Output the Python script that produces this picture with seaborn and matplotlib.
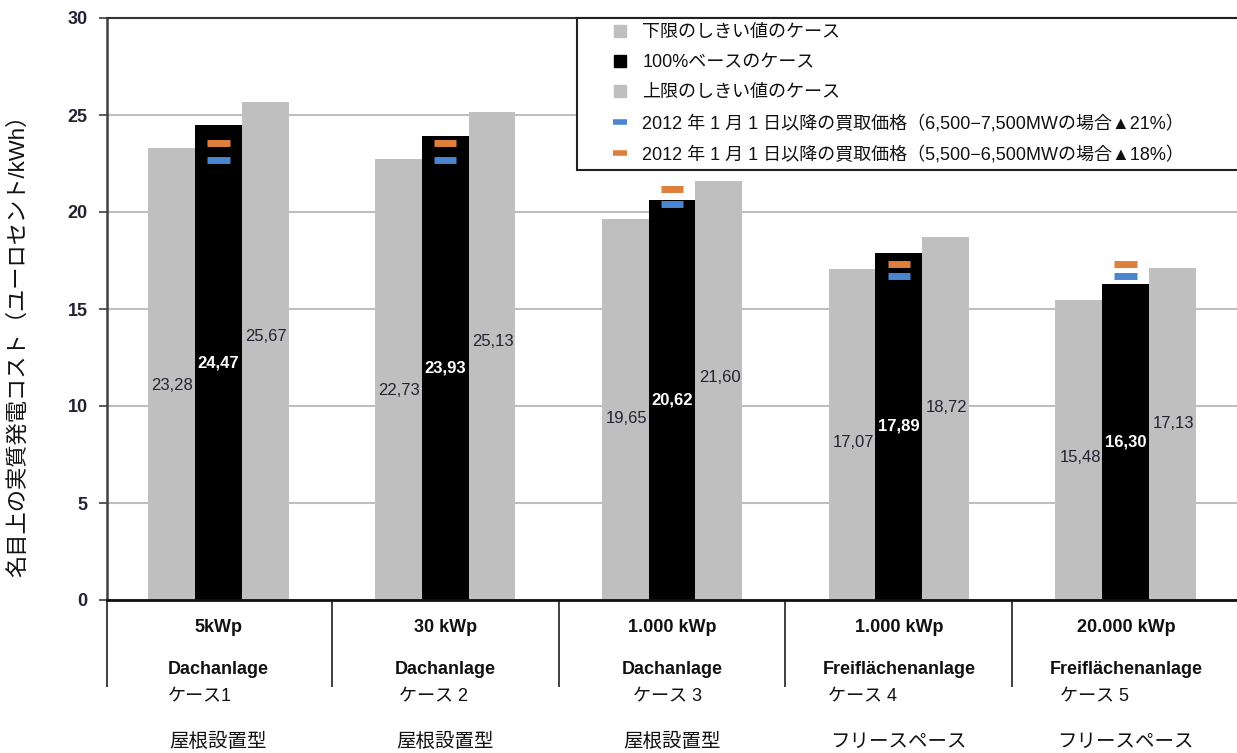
import numpy as np
import pandas as pd
import matplotlib
matplotlib.use("Agg")
import matplotlib.pyplot as plt
from matplotlib.lines import Line2D
import seaborn as sns

# ---------------- data ----------------
case_keys = ["ケース1", "ケース 2", "ケース 3", "ケース 4", "ケース 5"]
size_labels = ["5kWp", "30 kWp", "1.000 kWp", "1.000 kWp", "20.000 kWp"]
type_de = ["Dachanlage", "Dachanlage", "Dachanlage", "Freiflächenanlage", "Freiflächenanlage"]
type_ja = ["屋根設置型", "屋根設置型", "屋根設置型", "フリースペース", "フリースペース"]

series_names = ["下限のしきい値のケース", "100%ベースのケース", "上限のしきい値のケース"]
lower_vals = [23.28, 22.73, 19.65, 17.07, 15.48]
base_vals = [24.47, 23.93, 20.62, 17.89, 16.30]
upper_vals = [25.67, 25.13, 21.60, 18.72, 17.13]

tariff21_name = "2012 年 1 月 1 日以降の買取価格（6,500−7,500MWの場合▲21%）"
tariff18_name = "2012 年 1 月 1 日以降の買取価格（5,500−6,500MWの場合▲18%）"
tariff21_vals = [22.70, 22.70, 20.43, 16.68, 16.68]
tariff18_vals = [23.57, 23.57, 21.21, 17.31, 17.31]

y_label = "名目上の実質発電コスト（ユーロセント/kWh）"
y_ticks = [0, 5, 10, 15, 20, 25, 30]

# ---------------- style ----------------
sns.set_theme(style="white")
plt.rcParams["font.family"] = ["Liberation Sans", "Noto Sans CJK JP", "DejaVu Sans"]

GRAY = "#BFBFBF"
BLACK = "#000000"
BLUE = "#4A86CF"
ORANGE = "#E07F3A"
TXT = "#222233"

df = pd.DataFrame({
    "case": case_keys * 3,
    "series": sum([[s] * len(case_keys) for s in series_names], []),
    "value": lower_vals + base_vals + upper_vals,
})

fig = plt.figure(figsize=(12.37, 7.53), dpi=100)
ax = fig.add_axes([107 / 1237, 153 / 753, 1130 / 1237, 582 / 753])

sns.barplot(data=df, x="case", y="value", hue="series", order=case_keys,
            hue_order=series_names, palette=[GRAY, BLACK, GRAY], saturation=1,
            width=0.62, linewidth=0, legend=False, ax=ax, zorder=2)

# value labels
fracs = [0.475, 0.5, 0.53]
for ci, (cont, vals) in enumerate(zip(ax.containers, [lower_vals, base_vals, upper_vals])):
    for bar, v in zip(cont, vals):
        xc = bar.get_x() + bar.get_width() / 2
        txt = f"{v:.2f}".replace(".", ",")
        if ci == 1:
            ax.text(xc, v * fracs[ci], txt, ha="center", va="center", fontsize=12,
                    color="white", fontweight="bold", zorder=5)
        else:
            ax.text(xc + 0.005, v * fracs[ci], txt, ha="center", va="center", fontsize=12,
                    color=TXT, zorder=5)

# tariff markers
xpos = np.arange(len(case_keys))
ax.hlines(tariff21_vals, xpos - 0.05, xpos + 0.05, colors=BLUE, lw=5, zorder=4)
ax.hlines(tariff18_vals, xpos - 0.05, xpos + 0.05, colors=ORANGE, lw=5, zorder=4)

# axes
ax.set_ylim(0, 30)
ax.set_xlim(-0.49, 4.49)
ax.set_yticks(y_ticks)
ax.set_yticklabels([str(t) for t in y_ticks], fontsize=13, fontweight="bold", color=TXT)
ax.set_xticks([])
ax.set_xlabel("")
ax.set_ylabel("")
ax.yaxis.grid(True, color="#BEBEBE", lw=1.5, zorder=0)
ax.set_axisbelow(True)
ax.tick_params(axis="y", length=6, width=1.2, color="#404040", pad=8, left=True)
ax.spines["right"].set_visible(False)
ax.spines["left"].set_color("#404040")
ax.spines["left"].set_linewidth(1.8)
ax.spines["bottom"].set_color("#111111")
ax.spines["bottom"].set_linewidth(2)
ax.spines["top"].set_color("#333333")
ax.spines["top"].set_linewidth(1.5)

fig.text(18 / 1237, 0.548, y_label, rotation=90, ha="center", va="center",
         fontsize=16, color="#111111")

# category table below the axis
trans = ax.get_xaxis_transform()
ax.vlines([-0.49, 0.5, 1.5, 2.5, 3.5], 0, -0.1495, transform=trans, colors="#404040",
          lw=1.4, clip_on=False)
case_shift = [-0.08, -0.05, -0.02, -0.16, -0.14]
for i in range(len(case_keys)):
    ax.text(i, -0.0464, size_labels[i], transform=trans, ha="center", va="center",
            fontsize=13, fontweight="bold", color="#111111", clip_on=False)
    ax.text(i, -0.120, type_de[i], transform=trans, ha="center", va="center",
            fontsize=13, fontweight="bold", color="#111111", clip_on=False)
    ax.text(i + case_shift[i], -0.1667, case_keys[i], transform=trans, ha="center",
            va="center", fontsize=13, color="#111111", clip_on=False)
    ax.text(i, -0.244, type_ja[i], transform=trans, ha="center", va="center",
            fontsize=14, color="#111111", clip_on=False)

# legend
handles = [
    Line2D([], [], ls="none", marker="s", markersize=8, color=GRAY),
    Line2D([], [], ls="none", marker="s", markersize=8, color=BLACK),
    Line2D([], [], ls="none", marker="s", markersize=8, color=GRAY),
    Line2D([], [], ls="none", marker="_", markersize=10, markeredgewidth=4, color=BLUE),
    Line2D([], [], ls="none", marker="_", markersize=10, markeredgewidth=4, color=ORANGE),
]
labels = series_names + [tariff21_name, tariff18_name]
leg = ax.legend(handles, labels, loc="upper left", bbox_to_anchor=(0.416, 0, 0.62, 1.0),
                mode="expand", borderaxespad=0, fontsize=13, frameon=True,
                fancybox=False, framealpha=1, edgecolor="#222222", borderpad=0.36,
                labelspacing=0.72, handlelength=4.05, handletextpad=-0.8, numpoints=1)
leg.get_frame().set_linewidth(1.5)
leg.set_zorder(10)
for t in leg.get_texts():
    t.set_color("#111111")

fig.savefig("out.png", dpi=100)
